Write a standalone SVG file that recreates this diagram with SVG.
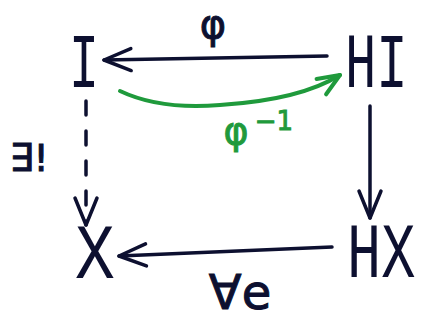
<svg xmlns="http://www.w3.org/2000/svg" width="421" height="321" viewBox="0 0 421 321">
<style>
.node{font-family:"Liberation Mono","DejaVu Sans Mono",monospace;font-size:78px;fill:#0d1030}
.lbl{font-family:"DejaVu Sans","Noto Sans",sans-serif;fill:#0d1030;stroke:#0d1030;stroke-width:1}
.ink{fill:none;stroke:#0d1030;stroke-width:3.5;stroke-linecap:round;stroke-linejoin:round}
.grn{fill:none;stroke:#1f9a3c;stroke-width:4;stroke-linecap:round;stroke-linejoin:round}
.gl{font-family:"DejaVu Sans","Noto Sans",sans-serif;fill:#1f9a3c;stroke:#1f9a3c;stroke-width:1}
</style>
<defs>
<marker id="ah" markerUnits="userSpaceOnUse" markerWidth="40" markerHeight="40" refX="0" refY="0" orient="auto" overflow="visible">
<path d="M -27 -11 L 0 0 L -27 11" fill="none" stroke="#0d1030" stroke-width="3.5" stroke-linecap="round" stroke-linejoin="round"/>
</marker>
<marker id="ahg" markerUnits="userSpaceOnUse" markerWidth="40" markerHeight="40" refX="0" refY="0" orient="auto" overflow="visible">
<path d="M -22 -9 L 0 0 L -22 9" fill="none" stroke="#1f9a3c" stroke-width="4" stroke-linecap="round" stroke-linejoin="round"/>
</marker>
</defs>
<rect width="421" height="321" fill="#ffffff"/>
<g id="connectors">
<line class="ink" x1="327" y1="56" x2="104" y2="60" marker-end="url(#ah)"/>
<path class="grn" d="M 120 91 Q 160 110 220 105 Q 300 100 340 75" marker-end="url(#ahg)"/>
<line class="ink" x1="370" y1="106" x2="370" y2="218" marker-end="url(#ah)"/>
<line class="ink" x1="332" y1="247" x2="119" y2="256" marker-end="url(#ah)"/>
<line class="ink" x1="86" y1="101" x2="86" y2="225" stroke-dasharray="14 16" marker-end="url(#ah)"/>
<text class="lbl" x="213" y="38" font-size="40" text-anchor="middle">φ</text>
<text class="gl" x="236" y="144" font-size="38" text-anchor="middle">φ</text>
<text class="gl" x="274" y="130" font-size="26" text-anchor="middle">−1</text>
<text class="lbl" x="29" y="171" font-size="38" text-anchor="middle">∃!</text>
<text class="lbl" x="240" y="309" font-size="48" text-anchor="middle">∀e</text>
</g>
<g id="node-I"><text class="node" text-anchor="middle" transform="translate(84,87) scale(0.64,1)">I</text></g>
<g id="node-HI"><text class="node" transform="translate(345,87) scale(0.67,1)">HI</text></g>
<g id="node-X"><text class="node" text-anchor="middle" transform="translate(95,278) scale(0.85,1)">X</text></g>
<g id="node-HX"><text class="node" transform="translate(347,277) scale(0.73,1)">HX</text></g>
</svg>
